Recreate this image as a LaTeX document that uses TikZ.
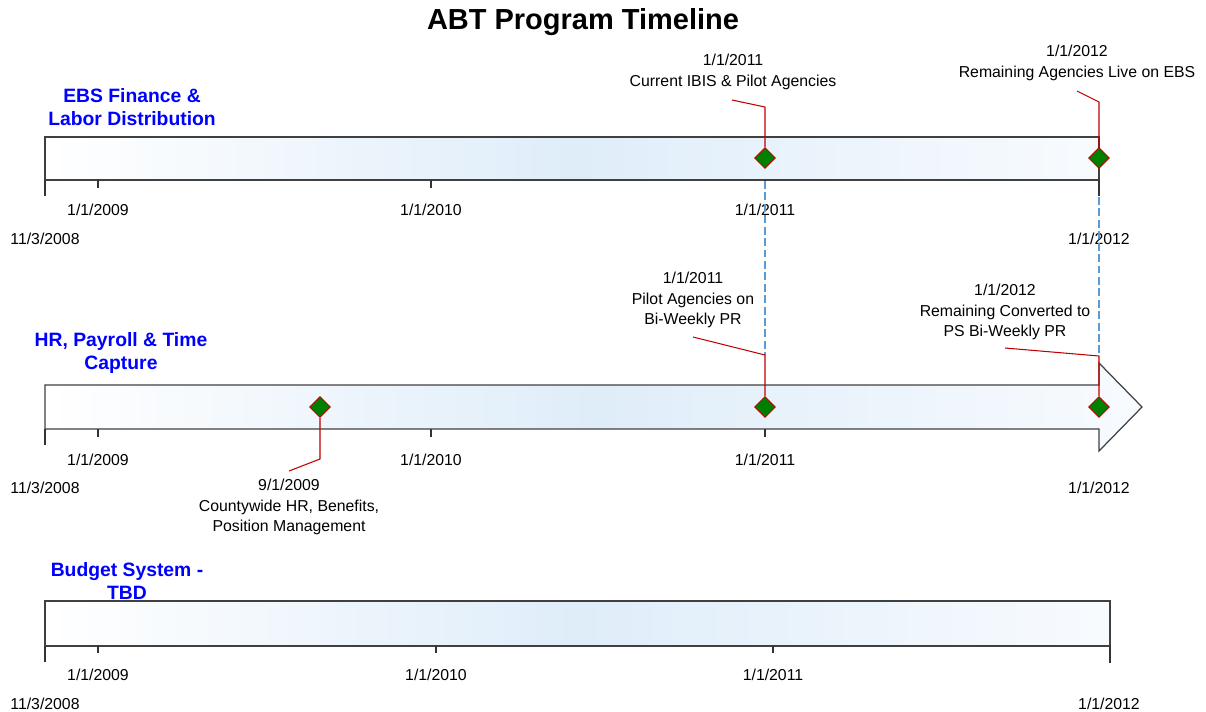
\documentclass[tikz,border=0pt]{standalone}
\usepackage{fontspec}
\setmainfont{Liberation Sans}
\usetikzlibrary{shapes.geometric}
\definecolor{barblue}{RGB}{223,237,249}
\definecolor{barend}{RGB}{248,251,254}
\definecolor{leadred}{RGB}{192,0,0}
\definecolor{msgreen}{RGB}{0,128,0}
\definecolor{guideblue}{RGB}{91,155,213}
\begin{document}
\begin{tikzpicture}[x=0.02cm,y=-0.02cm,
        bar/.style={draw=black!75, line width=.7pt, left color=white, right color=barend, middle color=barblue},
        tick/.style={draw=black!80, line width=.6pt},
        datelbl/.style={font=\fontsize{9pt}{11.6pt}\selectfont, inner sep=0pt},
        note/.style={datelbl, align=center},
        track/.style={text=blue, font=\bfseries\fontsize{11pt}{13pt}\selectfont, align=center, inner sep=0pt},
        milestone/.style={diamond, draw=leadred, fill=msgreen, line width=.5pt, inner sep=0pt, minimum width=.42cm, minimum height=.42cm},
        leader/.style={draw=leadred, line width=.6pt},
        guide/.style={draw=guideblue, line width=1.1pt, dash pattern=on 4.5pt off 2pt}]
    \useasboundingbox (0,0) rectangle (1206,711);

    \node[font=\bfseries\fontsize{16.5pt}{20pt}\selectfont] (title) at (583,22) {ABT Program Timeline};

    \node[track] (tracka) at (132,107) {EBS Finance \&\\Labor Distribution};
    \node[track] (trackb) at (121,353) {HR, Payroll \& Time\\Capture};
    \node[track] (trackc) at (127,581) {Budget System -\\TBD};

    \draw[bar] (45,137) rectangle (1099,180);
    \draw[tick] (45,180) -- (45,196);
    \draw[tick] (98,180) -- (98,188);
    \draw[tick] (431,180) -- (431,188);
    \draw[tick] (765,180) -- (765,188);
    \draw[tick] (1099,180) -- (1099,196);
    \node[datelbl] (ra09) at (98,210) {1/1/2009};
    \node[datelbl] (ra10) at (431,210) {1/1/2010};
    \node[datelbl] (ra11) at (765,210) {1/1/2011};
    \node[datelbl] (rastart) at (45,239) {11/3/2008};
    \node[datelbl] (ra12) at (1099,239) {1/1/2012};

    \draw[bar] (45,385)
        -- (1099,385)
        -- (1099,363)
        -- (1142,407)
        -- (1099,451)
        -- (1099,429)
        -- (45,429)
        -- cycle;
    \draw[tick] (45,429) -- (45,445);
    \draw[tick] (98,429) -- (98,437);
    \draw[tick] (431,429) -- (431,437);
    \draw[tick] (765,429) -- (765,437);
    \node[datelbl] (rb09) at (98,460) {1/1/2009};
    \node[datelbl] (rb10) at (431,460) {1/1/2010};
    \node[datelbl] (rb11) at (765,460) {1/1/2011};
    \node[datelbl] (rbstart) at (45,488) {11/3/2008};
    \node[datelbl] (rb12) at (1099,488) {1/1/2012};

    \draw[bar] (45,601) rectangle (1110,646);
    \draw[tick] (45,646) -- (45,662);
    \draw[tick] (98,646) -- (98,653);
    \draw[tick] (436,646) -- (436,653);
    \draw[tick] (773,646) -- (773,653);
    \draw[tick] (1110,646) -- (1110,663);
    \node[datelbl] (rc09) at (98,675) {1/1/2009};
    \node[datelbl] (rc10) at (436,675) {1/1/2010};
    \node[datelbl] (rc11) at (773,675) {1/1/2011};
    \node[datelbl] (rcstart) at (45,704) {11/3/2008};
    \node[datelbl] (rc12) at (1109,704) {1/1/2012};

    \coordinate (ga) at (765,181);
    \coordinate (gb) at (1099,197);
    \coordinate (kinka11) at (765,107);
    \coordinate (kinka12) at (1099,102);
    \coordinate (kinkb09) at (320,459);
    \coordinate (kinkb11) at (765,355);
    \coordinate (kinkb12) at (1099,356);
    \coordinate (enda11) at (732,100);
    \coordinate (enda12) at (1077,91);
    \coordinate (endb09) at (289,471);
    \coordinate (endb11) at (693,337);
    \coordinate (endb12) at (1005,348);

    \draw[guide] (ga) -- (kinkb11);
    \draw[guide] (gb) -- (kinkb12);

    \node[milestone] (da11) at (765,158) {};
    \node[milestone] (da12) at (1099,158) {};
    \node[milestone] (db09) at (320,407) {};
    \node[milestone] (db11) at (765,407) {};
    \node[milestone] (db12) at (1099,407) {};

    \draw[leader] (da11.north)
        -- (kinka11)
        -- (enda11);
    \draw[leader] (da12.north)
        -- (kinka12)
        -- (enda12);
    \draw[leader] (db09.south)
        -- (kinkb09)
        -- (endb09);
    \draw[leader] (db11.north)
        -- (kinkb11)
        -- (endb11);
    \draw[leader] (db12.north)
        -- (kinkb12)
        -- (endb12);

    \node[note] (nota11) at (733,72) {1/1/2011\\Current IBIS \& Pilot Agencies};
    \node[note] (nota12) at (1077,63) {1/1/2012\\Remaining Agencies Live on EBS};
    \node[note] (notb09) at (289,507) {9/1/2009\\Countywide HR, Benefits,\\Position Management};
    \node[note] (notb11) at (693,300) {1/1/2011\\Pilot Agencies on\\Bi-Weekly PR};
    \node[note] (notb12) at (1005,312) {1/1/2012\\Remaining Converted to\\PS Bi-Weekly PR};
\end{tikzpicture}
\end{document}
